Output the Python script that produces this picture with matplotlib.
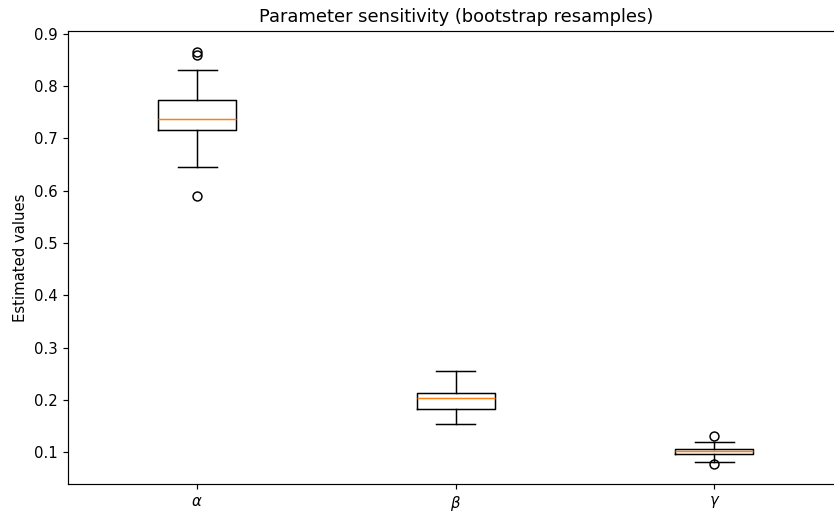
import matplotlib
matplotlib.use("Agg")
import matplotlib.pyplot as plt

# パラメータ名（x軸ラベル）
labels = [r"$\alpha$", r"$\beta$", r"$\gamma$"]

# 箱ひげ図の統計量
medians = [0.737, 0.204, 0.101]
q1 = [0.716, 0.182, 0.096]
q3 = [0.774, 0.212, 0.106]
whisker_low = [0.646, 0.154, 0.080]
whisker_high = [0.832, 0.256, 0.120]
fliers = [[0.590, 0.860, 0.866], [], [0.077, 0.131]]

stats = []
for i, lab in enumerate(labels):
    stats.append({
        "label": lab,
        "med": medians[i],
        "q1": q1[i],
        "q3": q3[i],
        "whislo": whisker_low[i],
        "whishi": whisker_high[i],
        "fliers": fliers[i],
    })

DPI = 107
fig = plt.figure(figsize=(834 / DPI, 516 / DPI), dpi=DPI)
# 右端は画像外まで伸びている（元画像が切り取られている）
ax = fig.add_axes([68 / 834, 32 / 516, 775.5 / 834, 453 / 516])

ax.bxp(stats)
ax.set_ylim(0.0388, 0.9057)
ax.spines["right"].set_visible(False)
ax.set_title("Parameter sensitivity (bootstrap resamples)")
ax.set_ylabel("Estimated values")

plt.savefig("out.png", dpi=DPI)
plt.close()
